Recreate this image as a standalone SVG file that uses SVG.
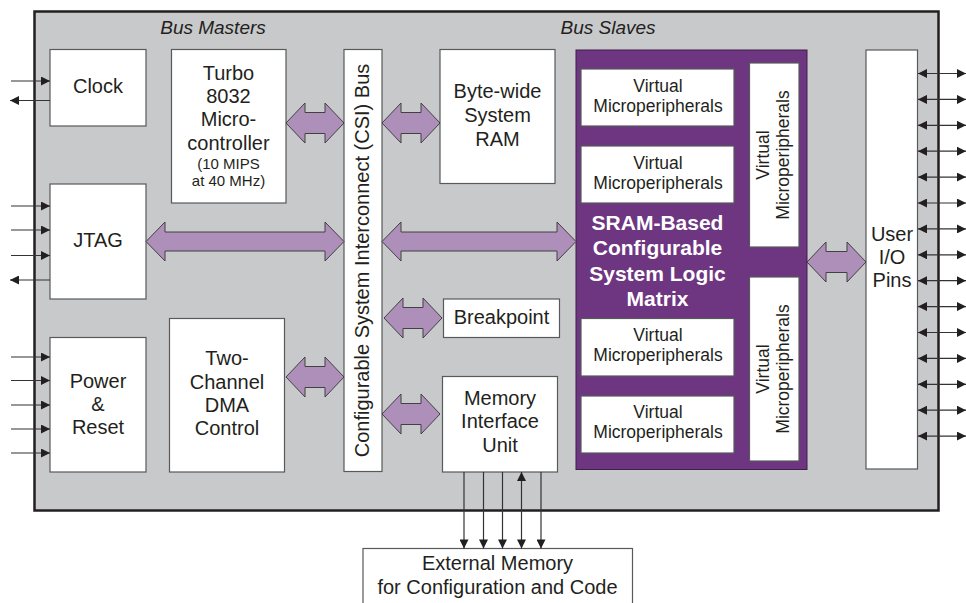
<svg xmlns="http://www.w3.org/2000/svg" width="966" height="603" viewBox="0 0 966 603">
  <style>
    .t { font-family: "Liberation Sans", Arial, sans-serif; fill: #231f20; text-anchor: middle; }
    .m { font-size: 20px; }
    .s { font-size: 15px; }
    .v { font-size: 17.5px; }
    .hdr { font-size: 19px; font-style: italic; }
    .w { fill: #ffffff; font-size: 21px; font-weight: bold; }
    .box { fill: #ffffff; stroke: #58595b; stroke-width: 1.2; }
    .fat { fill: #ae8fba; stroke: #414042; stroke-width: 1; }
    .sig { stroke: #333333; stroke-width: 1.2; fill: none; }
  </style>
  <defs>
    <marker id="head" viewBox="0 0 10 10" refX="10" refY="5" markerWidth="10" markerHeight="9" markerUnits="userSpaceOnUse" orient="auto-start-reverse">
      <path d="M0,0 L10,5 L0,10 Z" fill="#231f20"/>
    </marker>
  </defs>

  <!-- chip outline -->
  <rect x="34.5" y="11.5" width="904" height="499" fill="#c8c9ca" stroke="#231f20" stroke-width="2.5"/>
  <text class="t hdr" x="213" y="34">Bus Masters</text>
  <text class="t hdr" x="608" y="34">Bus Slaves</text>

  <!-- bus masters -->
  <g id="clock">
    <rect class="box" x="50" y="49.5" width="96" height="76.5"/>
    <text class="t m" x="98" y="93">Clock</text>
  </g>
  <g id="turbo8032">
    <rect class="box" x="171.5" y="49.5" width="114.5" height="153.5"/>
    <text class="t m" x="228.5" y="80">Turbo</text>
    <text class="t m" x="228.5" y="103">8032</text>
    <text class="t m" x="228.5" y="126">Micro-</text>
    <text class="t m" x="228.5" y="150">controller</text>
    <text class="t s" x="228.5" y="169">(10 MIPS</text>
    <text class="t s" x="228.5" y="186">at 40 MHz)</text>
  </g>
  <g id="jtag">
    <rect class="box" x="50" y="184" width="96" height="115"/>
    <text class="t m" x="98" y="247">JTAG</text>
  </g>
  <g id="power-reset">
    <rect class="box" x="50" y="337.5" width="96" height="134.5"/>
    <text class="t m" x="98" y="388">Power</text>
    <text class="t m" x="98" y="411">&amp;</text>
    <text class="t m" x="98" y="433.5">Reset</text>
  </g>
  <g id="dma">
    <rect class="box" x="169.5" y="318.5" width="115" height="153.5"/>
    <text class="t m" x="227" y="365">Two-</text>
    <text class="t m" x="227" y="388.5">Channel</text>
    <text class="t m" x="227" y="411.5">DMA</text>
    <text class="t m" x="227" y="435">Control</text>
  </g>

  <!-- CSI bus -->
  <g id="csi-bus">
    <rect class="box" x="344" y="49.5" width="38" height="422"/>
    <text class="t m" transform="translate(369,260.5) rotate(-90)">Configurable System Interconnect (CSI) Bus</text>
  </g>

  <!-- bus slaves -->
  <g id="system-ram">
    <rect class="box" x="440" y="49.5" width="115" height="134"/>
    <text class="t m" x="497.5" y="98">Byte-wide</text>
    <text class="t m" x="497.5" y="121.5">System</text>
    <text class="t m" x="497.5" y="145.5">RAM</text>
  </g>
  <g id="breakpoint">
    <rect class="box" x="443.5" y="299" width="116" height="38.5"/>
    <text class="t m" x="501.5" y="323.5">Breakpoint</text>
  </g>
  <g id="memory-interface">
    <rect class="box" x="442.5" y="376.5" width="115" height="95.5"/>
    <text class="t m" x="500" y="405">Memory</text>
    <text class="t m" x="500" y="428">Interface</text>
    <text class="t m" x="500" y="451.5">Unit</text>
  </g>

  <!-- configurable logic matrix -->
  <g id="cslm">
    <rect x="576" y="50" width="231" height="419.5" fill="#6e3581" stroke="#3d1f47" stroke-width="1"/>
    <text class="t w" x="657.5" y="230">SRAM-Based</text>
    <text class="t w" x="657.5" y="255">Configurable</text>
    <text class="t w" x="657.5" y="280.5">System Logic</text>
    <text class="t w" x="657.5" y="306">Matrix</text>
  </g>
  <g id="vmp-1">
    <rect class="box" x="581" y="69" width="153" height="57"/>
    <text class="t v" x="658" y="91.5">Virtual</text>
    <text class="t v" x="658" y="111.5">Microperipherals</text>
  </g>
  <g id="vmp-2">
    <rect class="box" x="581" y="146" width="153" height="57"/>
    <text class="t v" x="658" y="168.5">Virtual</text>
    <text class="t v" x="658" y="188.5">Microperipherals</text>
  </g>
  <g id="vmp-3">
    <rect class="box" x="581" y="318.5" width="153" height="57.5"/>
    <text class="t v" x="658" y="340.5">Virtual</text>
    <text class="t v" x="658" y="360.5">Microperipherals</text>
  </g>
  <g id="vmp-4">
    <rect class="box" x="581" y="396" width="153" height="57"/>
    <text class="t v" x="658" y="417.5">Virtual</text>
    <text class="t v" x="658" y="437.5">Microperipherals</text>
  </g>
  <g id="vmp-5">
    <rect class="box" x="749.5" y="63" width="49.5" height="184"/>
    <text class="t v" transform="translate(769,155) rotate(-90)">Virtual</text>
    <text class="t v" transform="translate(789,155) rotate(-90)">Microperipherals</text>
  </g>
  <g id="vmp-6">
    <rect class="box" x="749.5" y="277" width="49.5" height="184"/>
    <text class="t v" transform="translate(769,369) rotate(-90)">Virtual</text>
    <text class="t v" transform="translate(789,369) rotate(-90)">Microperipherals</text>
  </g>

  <g id="user-io">
    <rect class="box" x="866" y="50" width="51.5" height="419"/>
    <text class="t m" x="892" y="241">User</text>
    <text class="t m" x="892" y="263.5">I/O</text>
    <text class="t m" x="892" y="286.5">Pins</text>
  </g>

  <g id="external-memory">
    <rect class="box" x="363" y="548.5" width="269.5" height="70"/>
    <text class="t m" x="497.5" y="570">External Memory</text>
    <text class="t m" x="497.5" y="593.5">for Configuration and Code</text>
  </g>

  <g id="connectors">
    <!-- wide bus arrows -->
    <path class="fat" d="M286,123 L305,103 L305,112.5 L325,112.5 L325,103 L344,123 L325,143 L325,133.5 L305,133.5 L305,143 Z"/>
    <path class="fat" d="M382,123 L401,103 L401,112.5 L421,112.5 L421,103 L440,123 L421,143 L421,133.5 L401,133.5 L401,143 Z"/>
    <path class="fat" d="M146,241.5 L165,222 L165,232 L325,232 L325,222 L344,241.5 L325,261 L325,251 L165,251 L165,261 Z"/>
    <path class="fat" d="M382,241.5 L401,222 L401,232 L557,232 L557,222 L576,241.5 L557,261 L557,251 L401,251 L401,261 Z"/>
    <path class="fat" d="M286,377 L305,357 L305,366.5 L325,366.5 L325,357 L344,377 L325,397 L325,387.5 L305,387.5 L305,397 Z"/>
    <path class="fat" d="M384,318 L403,298 L403,307.5 L423,307.5 L423,298 L442,318 L423,338 L423,328.5 L403,328.5 L403,338 Z"/>
    <path class="fat" d="M382,414 L401,394 L401,403.5 L421,403.5 L421,394 L440,414 L421,434 L421,424.5 L401,424.5 L401,434 Z"/>
    <path class="fat" d="M807,262 L826,242 L826,251.5 L847,251.5 L847,242 L866,262 L847,282 L847,272.5 L826,272.5 L826,282 Z"/>

    <!-- clock pins -->
    <line class="sig" x1="11" y1="81" x2="50" y2="81" marker-end="url(#head)"/>
    <line class="sig" x1="50" y1="100.5" x2="10" y2="100.5" marker-end="url(#head)"/>
    <!-- JTAG pins -->
    <line class="sig" x1="11" y1="206" x2="50" y2="206" marker-end="url(#head)"/>
    <line class="sig" x1="11" y1="230" x2="50" y2="230" marker-end="url(#head)"/>
    <line class="sig" x1="11" y1="255.5" x2="50" y2="255.5" marker-end="url(#head)"/>
    <line class="sig" x1="50" y1="280" x2="10" y2="280" marker-end="url(#head)"/>
    <!-- power / reset pins -->
    <line class="sig" x1="11" y1="357" x2="50" y2="357" marker-end="url(#head)"/>
    <line class="sig" x1="11" y1="380.5" x2="50" y2="380.5" marker-end="url(#head)"/>
    <line class="sig" x1="11" y1="405" x2="50" y2="405" marker-end="url(#head)"/>
    <line class="sig" x1="11" y1="429" x2="50" y2="429" marker-end="url(#head)"/>
    <line class="sig" x1="11" y1="453" x2="50" y2="453" marker-end="url(#head)"/>

    <!-- user I/O pins -->
    <g class="sig" marker-start="url(#head)" marker-end="url(#head)">
      <line x1="918" y1="73.5" x2="966" y2="73.5"/>
      <line x1="918" y1="99.4" x2="966" y2="99.4"/>
      <line x1="918" y1="125.3" x2="966" y2="125.3"/>
      <line x1="918" y1="151.2" x2="966" y2="151.2"/>
      <line x1="918" y1="177.1" x2="966" y2="177.1"/>
      <line x1="918" y1="203" x2="966" y2="203"/>
      <line x1="918" y1="228.9" x2="966" y2="228.9"/>
      <line x1="918" y1="254.8" x2="966" y2="254.8"/>
      <line x1="918" y1="280.7" x2="966" y2="280.7"/>
      <line x1="918" y1="306.6" x2="966" y2="306.6"/>
      <line x1="918" y1="332.5" x2="966" y2="332.5"/>
      <line x1="918" y1="358.4" x2="966" y2="358.4"/>
      <line x1="918" y1="384.3" x2="966" y2="384.3"/>
      <line x1="918" y1="410.2" x2="966" y2="410.2"/>
      <line x1="918" y1="436.1" x2="966" y2="436.1"/>
    </g>

    <!-- external memory bus -->
    <line class="sig" x1="464" y1="472" x2="464" y2="548.5" marker-end="url(#head)"/>
    <line class="sig" x1="483.5" y1="472" x2="483.5" y2="548.5" marker-end="url(#head)"/>
    <line class="sig" x1="502.5" y1="472" x2="502.5" y2="548.5" marker-end="url(#head)"/>
    <line class="sig" x1="521.5" y1="472" x2="521.5" y2="548.5" marker-start="url(#head)" marker-end="url(#head)"/>
    <line class="sig" x1="541" y1="472" x2="541" y2="548.5" marker-end="url(#head)"/>
  </g>
</svg>
